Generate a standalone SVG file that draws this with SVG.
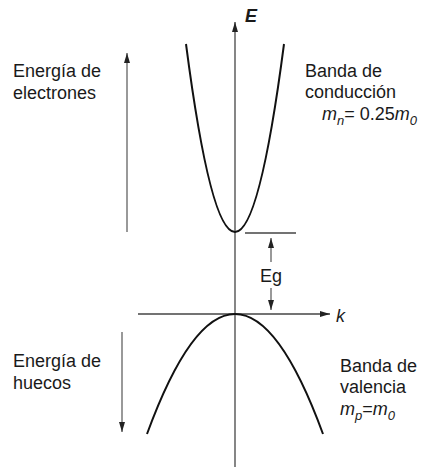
<svg xmlns="http://www.w3.org/2000/svg" width="424" height="470" viewBox="0 0 424 470">
<defs>
<marker id="ah" markerUnits="userSpaceOnUse" markerWidth="11" markerHeight="7" refX="10" refY="3" orient="auto">
<path d="M0,0 L10,3 L0,6 z" fill="#222"/>
</marker>
<style>
text{font-family:"Liberation Sans",Arial,sans-serif;font-size:18px;fill:#1a1a1a}
.it{font-style:italic}
.axis{stroke:#444;stroke-width:1.3;fill:none}
.arr{stroke:#555;stroke-width:1.2;fill:none}
.band{stroke:#111;stroke-width:2;fill:none}
</style>
</defs>
<rect width="424" height="470" fill="#fff"/>
<g id="connectors">
<line class="axis" x1="235" y1="467" x2="235" y2="22" marker-end="url(#ah)"/>
<line class="axis" x1="138" y1="314" x2="330" y2="314" marker-end="url(#ah)"/>
<line class="arr" x1="127" y1="232" x2="127" y2="53" marker-end="url(#ah)"/>
<line class="arr" x1="122" y1="332" x2="122" y2="432" marker-end="url(#ah)"/>
<line class="arr" x1="271" y1="262" x2="271" y2="238" marker-end="url(#ah)"/>
<line class="arr" x1="271" y1="288" x2="271" y2="310" marker-end="url(#ah)"/>
<line class="axis" x1="245" y1="233" x2="296" y2="233"/>
</g>
<g id="conduction-band">
<path class="band" d="M186,44 Q235,420 284,44"/>
</g>
<g id="valence-band">
<path class="band" d="M147,434 Q235,194 323,434"/>
</g>
<g id="label-E"><text x="245" y="22" font-size="15" font-weight="bold" class="it">E</text></g>
<g id="label-k"><text x="336" y="322" font-size="16" class="it">k</text></g>
<g id="label-Eg"><text x="271" y="282" font-size="16" text-anchor="middle">Eg</text></g>
<g id="label-electrones"><text x="13" y="77">Energía de</text><text x="13" y="99">electrones</text></g>
<g id="label-huecos"><text x="13" y="367">Energía de</text><text x="13" y="389">huecos</text></g>
<g id="label-conduccion">
<text x="305" y="77">Banda de</text>
<text x="305" y="98">conducción</text>
<text x="322" y="120"><tspan class="it">m</tspan><tspan class="it" font-size="13" dy="5">n</tspan><tspan dy="-5">= 0.25</tspan><tspan class="it">m</tspan><tspan class="it" font-size="13" dy="5">0</tspan></text>
</g>
<g id="label-valencia">
<text x="340" y="372">Banda de</text>
<text x="340" y="393">valencia</text>
<text x="340" y="415"><tspan class="it">m</tspan><tspan class="it" font-size="13" dy="5">p</tspan><tspan dy="-5">=</tspan><tspan class="it">m</tspan><tspan class="it" font-size="13" dy="5">0</tspan></text>
</g>
</svg>
